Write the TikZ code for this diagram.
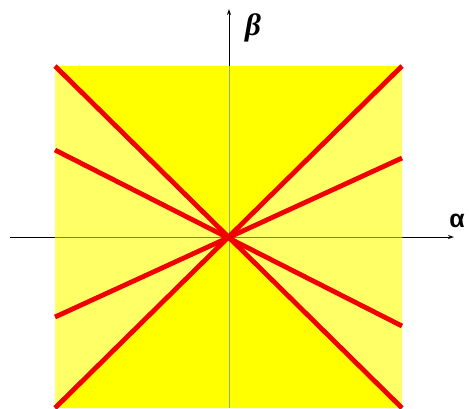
\documentclass[tikz,border=0pt]{standalone}
\usepackage{fontspec}
\newfontfamily\alphafont{Liberation Sans}
\newfontfamily\betafont{Liberation Serif}
\usetikzlibrary{arrows.meta}
\definecolor{lightyel}{RGB}{255,255,102}
\definecolor{fullyel}{RGB}{255,255,0}
\definecolor{axred}{RGB}{240,0,0}
\definecolor{haxin}{RGB}{130,130,60}
\definecolor{vaxin}{RGB}{140,175,130}
\tikzset{
  axis/.style={line width=1pt, black, -{Stealth[length=6pt,width=4pt]}},
  redline/.style={line width=4.8pt, axred},
  inaxis/.style={line width=1pt},
}
\begin{document}
\begin{tikzpicture}[x=1pt,y=-1pt]
\useasboundingbox (0,0) rectangle (469,408);
% named points
\coordinate (O) at (229,237);
\coordinate (TL) at (55,66);
\coordinate (TR) at (402,66);
\coordinate (BL) at (55,408);
\coordinate (BR) at (402,408);
\coordinate (L1) at (55,150);
\coordinate (R1) at (402,326);
\coordinate (L2) at (55,317);
\coordinate (R2) at (402,158);
\coordinate (XS) at (10,237);
\coordinate (XE) at (454,237);
\coordinate (YS) at (229,408);
\coordinate (YE) at (229,9);
% axes
\draw[axis] (XS) -- (XE);
\draw[axis] (YS) -- (YE);
% fills
\fill[fullyel] (TL) -- (TR) -- (O) -- cycle;
\fill[fullyel] (BL) -- (BR) -- (O) -- cycle;
\fill[lightyel] (TL) -- (BL) -- (O) -- cycle;
\fill[lightyel] (TR) -- (BR) -- (O) -- cycle;
% inner axes
\draw[inaxis, haxin] (55,237) -- (402,237);
\draw[inaxis, vaxin] (229,66) -- (229,408);
% red lines
\draw[redline] (TL) -- (BR);
\draw[redline] (BL) -- (TR);
\draw[redline] (L1) -- (R1);
\draw[redline] (L2) -- (R2);
% labels
\node (alpha) at (457,221) {\alphafont\bfseries\fontsize{25}{30}\selectfont α};
\node (beta) at (253,28) {\betafont\bfseries\itshape\fontsize{31}{36}\selectfont β};
\end{tikzpicture}
\end{document}
